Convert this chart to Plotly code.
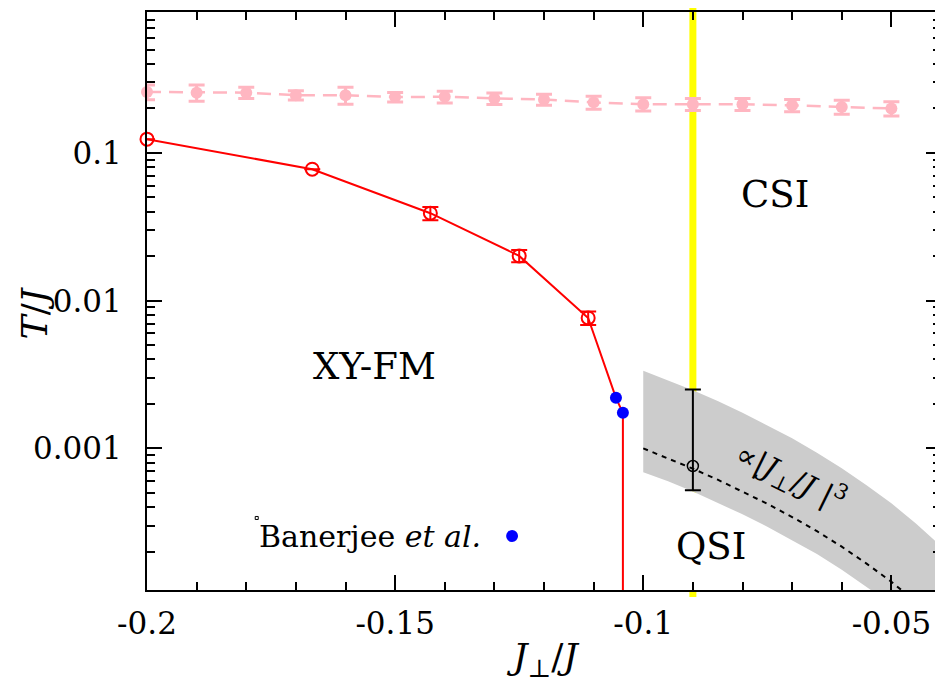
import math
import plotly.graph_objects as go

# ---------------- data ----------------
# pink (upper) dashed series
pink_x = [-0.20, -0.19, -0.18, -0.17, -0.16, -0.15, -0.14, -0.13,
          -0.12, -0.11, -0.10, -0.09, -0.08, -0.07, -0.06, -0.05]
pink_T = [0.259, 0.256, 0.256, 0.246, 0.246, 0.239, 0.240, 0.234,
          0.230, 0.220, 0.214, 0.214, 0.214, 0.210, 0.205, 0.200]
pink_err = [0.030, 0.032, 0.022, 0.018, 0.032, 0.018, 0.022, 0.021,
            0.020, 0.022, 0.022, 0.020, 0.020, 0.020, 0.022, 0.022]

# red XY-FM transition points
red_x = [-0.2000, -0.1667, -0.1429, -0.1250, -0.1111]
red_T = [0.124, 0.0776, 0.0391, 0.0201, 0.00764]
red_err = [0.0, 0.0, 0.0040, 0.0019, 0.0008]

# Banerjee et al. points
blue_x = [-0.1055, -0.1041]
blue_T = [0.00220, 0.00174]

# QSI point with asymmetric error bar
qsi_x = [-0.09]
qsi_T = [0.00076]
qsi_plus = [0.00174]
qsi_minus = [0.00024]

# CSI boundary (yellow line)
csi_x = -0.09

# |J_perp/J|^3 curve and its grey uncertainty band
band_x = [-0.100, -0.095, -0.090, -0.085, -0.080, -0.075, -0.070,
          -0.065, -0.060, -0.055, -0.050, -0.045, -0.040]
cubic_T = [1.00e-3, 8.57e-4, 7.29e-4, 6.14e-4, 5.12e-4, 4.22e-4, 3.43e-4,
           2.75e-4, 2.16e-4, 1.66e-4, 1.25e-4, 9.1e-5, 6.4e-5]
band_upper = [3.35e-3, 2.90e-3, 2.48e-3, 2.09e-3, 1.74e-3, 1.43e-3, 1.17e-3,
              9.35e-4, 7.34e-4, 5.64e-4, 4.25e-4, 3.09e-4, 2.18e-4]
band_lower = [6.9e-4, 6.0e-4, 5.1e-4, 4.3e-4, 3.58e-4, 2.95e-4, 2.40e-4,
              1.93e-4, 1.51e-4, 1.16e-4, 8.8e-5, 6.4e-5, 4.5e-5]

FLOOR = 1e-6  # well below the visible axis range

x_ticks = [-0.2, -0.15, -0.1, -0.05]
x_ticktext = ["-0.2", "-0.15", "-0.1", "-0.05"]
y_ticks = [0.001, 0.01, 0.1]
y_ticktext = ["0.001", "0.01", "0.1"]
y_minor = [k * 10 ** e for e in range(-4, 0) for k in range(2, 10)]

SERIF = "DejaVu Serif"
PINK = "#ffb6c1"
GREY = "#cccccc"

fig = go.Figure()

# yellow CSI boundary (sticks slightly out of the frame like the original)
fig.add_shape(type="line", xref="x", yref="paper", x0=csi_x, x1=csi_x,
              y0=-0.012, y1=1.014, line=dict(color="#ffff00", width=7),
              layer="below")

# white area below the band
fig.add_trace(go.Scatter(
    x=band_x + band_x[::-1], y=band_lower + [FLOOR] * len(band_x),
    mode="lines", fill="toself", fillcolor="white", line=dict(width=0),
    hoverinfo="skip", showlegend=False))
# grey band
fig.add_trace(go.Scatter(
    x=band_x + band_x[::-1], y=band_upper + band_lower[::-1],
    mode="lines", fill="toself", fillcolor=GREY, line=dict(width=0),
    hoverinfo="skip", showlegend=False))
# dashed cubic curve
fig.add_trace(go.Scatter(
    x=band_x, y=cubic_T, mode="lines",
    line=dict(color="black", width=2, dash="5px,5px"), showlegend=False))
# QSI point
fig.add_trace(go.Scatter(
    x=qsi_x, y=qsi_T, mode="markers",
    marker=dict(symbol="circle-open", size=11, color="black", line=dict(width=1.5)),
    error_y=dict(type="data", array=qsi_plus, arrayminus=qsi_minus,
                 color="black", thickness=2, width=8),
    showlegend=False))
# pink series
fig.add_trace(go.Scatter(
    x=pink_x, y=pink_T, mode="lines+markers",
    line=dict(color=PINK, width=2.5, dash="14px,8px"),
    marker=dict(symbol="circle", size=12, color=PINK),
    error_y=dict(type="data", array=pink_err, color=PINK, thickness=3, width=8),
    showlegend=False, cliponaxis=False))
# red line (through Banerjee points, then dropping to the axis)
fig.add_trace(go.Scatter(
    x=red_x + blue_x + [blue_x[-1]], y=red_T + blue_T + [FLOOR],
    mode="lines", line=dict(color="#ff0000", width=2), showlegend=False))
# red markers
fig.add_trace(go.Scatter(
    x=red_x, y=red_T, mode="markers",
    marker=dict(symbol="circle-open", size=13, color="#ff0000", line=dict(width=2)),
    error_y=dict(type="data", array=red_err, color="#ff0000", thickness=2, width=8),
    showlegend=False, cliponaxis=False))
# blue markers
fig.add_trace(go.Scatter(
    x=blue_x, y=blue_T, mode="markers",
    marker=dict(symbol="circle", size=12, color="#0000ff"), showlegend=False))

# legend-like key
fig.add_shape(type="circle", xref="paper", yref="paper",
              x0=0.4523, x1=0.4673, y0=0.0830, y1=0.1038,
              fillcolor="#0000ff", line=dict(width=0))
fig.add_shape(type="rect", xref="paper", yref="paper",
              x0=0.1363, x1=0.1401, y0=0.1220, y1=0.1272,
              line=dict(color="black", width=1))

ann_font = dict(family=SERIF, size=37, color="black")
annotations = [
    dict(text="CSI", x=0.7915, y=0.685, font=ann_font),
    dict(text="XY-FM", x=0.2864, y=0.3875, font=ann_font),
    dict(text="QSI", x=0.7098, y=0.0761, font=ann_font),
    dict(text="∝|<i>J</i><sub>⊥</sub>/<i>J</i> |<sup>3</sup>", x=0.81, y=0.195,
         textangle=26, font=dict(family=SERIF, size=30, color="black")),
    dict(text="Banerjee <i>et al.</i>", x=0.2814, y=0.0917,
         font=dict(family=SERIF, size=30, color="black")),
    dict(text="<i>J</i><sub>⊥</sub>/<i>J</i>", x=0.4987, y=-0.121,
         font=dict(family=SERIF, size=36, color="black")),
    dict(text="<i>T</i>/<i>J</i>", x=-0.142, y=0.479, textangle=-90,
         font=dict(family=SERIF, size=36, color="black")),
]
for a in annotations:
    a.update(xref="paper", yref="paper", showarrow=False,
             xanchor="center", yanchor="middle")

axis_common = dict(
    ticks="inside", tickwidth=2, tickcolor="black", ticklen=15,
    showline=True, linewidth=2, linecolor="black", mirror="ticks",
    showgrid=False, zeroline=False,
    tickfont=dict(family=SERIF, size=31, color="black"),
)

# the page adds an 8px body margin, so the figure is 8px smaller than the window
fig.update_layout(
    width=935, height=674,
    margin=dict(l=139, r=0, t=4, b=92),
    paper_bgcolor="white", plot_bgcolor="rgba(0,0,0,0)",
    annotations=annotations,
    xaxis=dict(
        range=[-0.2, -0.04], tickmode="array", tickvals=x_ticks, ticktext=x_ticktext,
        ticklabelstandoff=5,
        minor=dict(dtick=0.01, tick0=-0.2, ticks="inside", ticklen=8,
                   tickwidth=2, tickcolor="black"),
        **axis_common),
    yaxis=dict(
        type="log", range=[math.log10(1.1e-4), math.log10(0.9)],
        tickmode="array", tickvals=y_ticks, ticktext=y_ticktext,
        ticklabelstandoff=17,
        minor=dict(tickmode="array", tickvals=y_minor, ticks="inside", ticklen=8,
                   tickwidth=2, tickcolor="black"),
        **axis_common),
    showlegend=False,
)

fig.write_html("out.html")
